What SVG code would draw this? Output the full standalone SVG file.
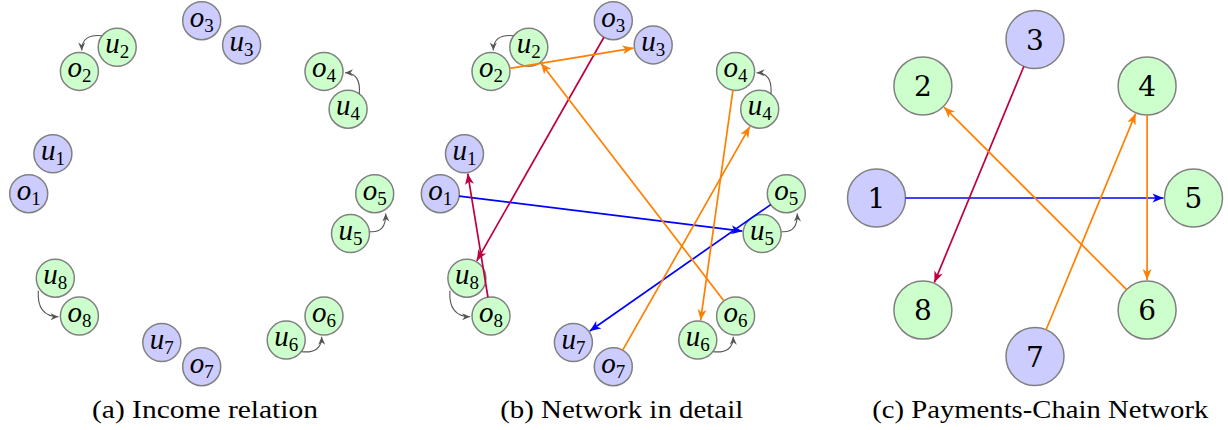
<svg xmlns="http://www.w3.org/2000/svg" width="1228" height="430" viewBox="0 0 1228 430">
<style>
.lav{fill:#ccccff;stroke:#808080;stroke-width:1.5}
.grn{fill:#ccffcc;stroke:#808080;stroke-width:1.5}
.m{font-family:"Liberation Serif",serif;font-style:italic;font-size:29px;fill:#000;text-anchor:middle}
.sub{font-style:normal;font-size:19px}
.num{font-family:"DejaVu Serif",serif;font-size:28px;fill:#000;text-anchor:middle}
.cap{font-family:"Liberation Serif",serif;font-size:26px;fill:#000;text-anchor:middle}
.e{fill:none;stroke-width:1.7}
.blue{stroke:#0000ff;marker-end:url(#ab)}
.red{stroke:#bf0040;marker-end:url(#ar)}
.ora{stroke:#ff8000;marker-end:url(#ao)}
.g{fill:none;stroke:#555;stroke-width:1.1;marker-end:url(#ag)}
</style>
<defs>
<marker id="ab" markerUnits="userSpaceOnUse" viewBox="-12 -6 14 12" refX="0" refY="0" markerWidth="14" markerHeight="12" orient="auto" overflow="visible"><path d="M0,0 L-11,-4.5 L-8,0 L-11,4.5 Z" fill="#0000ff"/></marker>
<marker id="ar" markerUnits="userSpaceOnUse" viewBox="-12 -6 14 12" refX="0" refY="0" markerWidth="14" markerHeight="12" orient="auto" overflow="visible"><path d="M0,0 L-11,-4.5 L-8,0 L-11,4.5 Z" fill="#bf0040"/></marker>
<marker id="ao" markerUnits="userSpaceOnUse" viewBox="-12 -6 14 12" refX="0" refY="0" markerWidth="14" markerHeight="12" orient="auto" overflow="visible"><path d="M0,0 L-11,-4.5 L-8,0 L-11,4.5 Z" fill="#ff8000"/></marker>
<marker id="ag" markerUnits="userSpaceOnUse" viewBox="-9 -5 10 10" refX="0" refY="0" markerWidth="10" markerHeight="10" orient="auto" overflow="visible"><path d="M0,0 L-8,-3.5 L-5.5,0 L-8,3.5 Z" fill="#555"/></marker>
</defs>

<!-- Panel (a) -->
<g id="panel-a" transform="translate(201.7,193.7)">
  <g id="a-o1" transform="translate(-173,0)"><circle r="19" class="lav"/><text class="m" y="6">o<tspan class="sub" dy="5">1</tspan></text></g>
  <g id="a-u1" transform="translate(-148.8,-39.9)"><circle r="19" class="lav"/><text class="m" y="6">u<tspan class="sub" dy="5">1</tspan></text></g>
  <g id="a-o2" transform="translate(-122.3,-122.3)"><circle r="19" class="grn"/><text class="m" y="6">o<tspan class="sub" dy="5">2</tspan></text></g>
  <g id="a-u2" transform="translate(-84.5,-146.4)"><circle r="19" class="grn"/><text class="m" y="6">u<tspan class="sub" dy="5">2</tspan></text></g>
  <g id="a-o3" transform="translate(0,-173)"><circle r="19" class="lav"/><text class="m" y="6">o<tspan class="sub" dy="5">3</tspan></text></g>
  <g id="a-u3" transform="translate(39.9,-148.8)"><circle r="19" class="lav"/><text class="m" y="6">u<tspan class="sub" dy="5">3</tspan></text></g>
  <g id="a-o4" transform="translate(122.3,-122.3)"><circle r="19" class="grn"/><text class="m" y="6">o<tspan class="sub" dy="5">4</tspan></text></g>
  <g id="a-u4" transform="translate(146.4,-84.5)"><circle r="19" class="grn"/><text class="m" y="6">u<tspan class="sub" dy="5">4</tspan></text></g>
  <g id="a-o5" transform="translate(173,0)"><circle r="19" class="grn"/><text class="m" y="6">o<tspan class="sub" dy="5">5</tspan></text></g>
  <g id="a-u5" transform="translate(148.8,39.9)"><circle r="19" class="grn"/><text class="m" y="6">u<tspan class="sub" dy="5">5</tspan></text></g>
  <g id="a-o6" transform="translate(122.3,122.3)"><circle r="19" class="grn"/><text class="m" y="6">o<tspan class="sub" dy="5">6</tspan></text></g>
  <g id="a-u6" transform="translate(84.5,146.4)"><circle r="19" class="grn"/><text class="m" y="6">u<tspan class="sub" dy="5">6</tspan></text></g>
  <g id="a-o7" transform="translate(0,173)"><circle r="19" class="lav"/><text class="m" y="6">o<tspan class="sub" dy="5">7</tspan></text></g>
  <g id="a-u7" transform="translate(-39.9,148.8)"><circle r="19" class="lav"/><text class="m" y="6">u<tspan class="sub" dy="5">7</tspan></text></g>
  <g id="a-o8" transform="translate(-122.3,122.3)"><circle r="19" class="grn"/><text class="m" y="6">o<tspan class="sub" dy="5">8</tspan></text></g>
  <g id="a-u8" transform="translate(-146.4,84.5)"><circle r="19" class="grn"/><text class="m" y="6">u<tspan class="sub" dy="5">8</tspan></text></g>
  <g id="a-connectors">
    <path class="g" d="M-100,-158 Q-120,-160 -120,-143.2"/>
    <path class="g" d="M157.6,-99.4 Q159.5,-121 143.3,-121"/>
    <path class="g" d="M168.3,38 Q184.5,39.5 184,19.8"/>
    <path class="g" d="M100,158 Q120,160 120,143"/>
    <path class="g" d="M-163.4,97 Q-165,123 -143.2,123"/>
  </g>
</g>

<!-- Panel (b) -->
<g id="panel-b" transform="translate(613.3,193.7)">
  <g id="b-o1" transform="translate(-173,0)"><circle r="19" class="lav"/><text class="m" y="6">o<tspan class="sub" dy="5">1</tspan></text></g>
  <g id="b-u1" transform="translate(-148.8,-39.9)"><circle r="19" class="lav"/><text class="m" y="6">u<tspan class="sub" dy="5">1</tspan></text></g>
  <g id="b-o2" transform="translate(-122.3,-122.3)"><circle r="19" class="grn"/><text class="m" y="6">o<tspan class="sub" dy="5">2</tspan></text></g>
  <g id="b-u2" transform="translate(-84.5,-146.4)"><circle r="19" class="grn"/><text class="m" y="6">u<tspan class="sub" dy="5">2</tspan></text></g>
  <g id="b-o3" transform="translate(0,-173)"><circle r="19" class="lav"/><text class="m" y="6">o<tspan class="sub" dy="5">3</tspan></text></g>
  <g id="b-u3" transform="translate(39.9,-148.8)"><circle r="19" class="lav"/><text class="m" y="6">u<tspan class="sub" dy="5">3</tspan></text></g>
  <g id="b-o4" transform="translate(122.3,-122.3)"><circle r="19" class="grn"/><text class="m" y="6">o<tspan class="sub" dy="5">4</tspan></text></g>
  <g id="b-u4" transform="translate(146.4,-84.5)"><circle r="19" class="grn"/><text class="m" y="6">u<tspan class="sub" dy="5">4</tspan></text></g>
  <g id="b-o5" transform="translate(173,0)"><circle r="19" class="grn"/><text class="m" y="6">o<tspan class="sub" dy="5">5</tspan></text></g>
  <g id="b-u5" transform="translate(148.8,39.9)"><circle r="19" class="grn"/><text class="m" y="6">u<tspan class="sub" dy="5">5</tspan></text></g>
  <g id="b-o6" transform="translate(122.3,122.3)"><circle r="19" class="grn"/><text class="m" y="6">o<tspan class="sub" dy="5">6</tspan></text></g>
  <g id="b-u6" transform="translate(84.5,146.4)"><circle r="19" class="grn"/><text class="m" y="6">u<tspan class="sub" dy="5">6</tspan></text></g>
  <g id="b-o7" transform="translate(0,173)"><circle r="19" class="lav"/><text class="m" y="6">o<tspan class="sub" dy="5">7</tspan></text></g>
  <g id="b-u7" transform="translate(-39.9,148.8)"><circle r="19" class="lav"/><text class="m" y="6">u<tspan class="sub" dy="5">7</tspan></text></g>
  <g id="b-o8" transform="translate(-122.3,122.3)"><circle r="19" class="grn"/><text class="m" y="6">o<tspan class="sub" dy="5">8</tspan></text></g>
  <g id="b-u8" transform="translate(-146.4,84.5)"><circle r="19" class="grn"/><text class="m" y="6">u<tspan class="sub" dy="5">8</tspan></text></g>
  <g id="b-connectors">
    <path class="g" d="M-100,-158 Q-120,-160 -120,-143.2"/>
    <path class="g" d="M157.6,-99.4 Q159.5,-121 143.3,-121"/>
    <path class="g" d="M168.3,38 Q184.5,39.5 184,19.8"/>
    <path class="g" d="M100,158 Q120,160 120,143"/>
    <path class="g" d="M-163.4,97 Q-165,123 -143.2,123"/>
    <line class="e blue" x1="-154.15" y1="2.34" x2="128.95" y2="37.44"/>
    <line class="e blue" x1="157.42" y1="10.89" x2="-23.5" y2="137.34"/>
    <line class="e red" x1="-9.39" y1="-156.48" x2="-136.51" y2="67.11"/>
    <line class="e red" x1="-125.36" y1="103.55" x2="-145.58" y2="-20.16"/>
    <line class="e ora" x1="-103.55" y1="-125.36" x2="20.16" y2="-145.58"/>
    <line class="e ora" x1="110.71" y1="107.24" x2="-72.3" y2="-130.55"/>
    <line class="e ora" x1="119.65" y1="-103.49" x2="87.29" y2="126.6"/>
    <line class="e ora" x1="9.39" y1="156.48" x2="136.51" y2="-67.11"/>
  </g>
</g>

<!-- Panel (c) -->
<g id="panel-c" transform="translate(1035,198)">
  <g id="c-1" transform="translate(-158.5,0)"><circle r="29" class="lav"/><text class="num" y="10">1</text></g>
  <g id="c-2" transform="translate(-112.1,-112.1)"><circle r="29" class="grn"/><text class="num" y="10">2</text></g>
  <g id="c-3" transform="translate(0,-158.5)"><circle r="29" class="lav"/><text class="num" y="10">3</text></g>
  <g id="c-4" transform="translate(112.1,-112.1)"><circle r="29" class="grn"/><text class="num" y="10">4</text></g>
  <g id="c-5" transform="translate(158.5,0)"><circle r="29" class="grn"/><text class="num" y="10">5</text></g>
  <g id="c-6" transform="translate(112.1,112.1)"><circle r="29" class="grn"/><text class="num" y="10">6</text></g>
  <g id="c-7" transform="translate(0,158.5)"><circle r="29" class="lav"/><text class="num" y="10">7</text></g>
  <g id="c-8" transform="translate(-112.1,112.1)"><circle r="29" class="grn"/><text class="num" y="10">8</text></g>
  <g id="c-connectors">
    <line class="e blue" x1="-129.5" y1="0" x2="128.5" y2="0"/>
    <line class="e red" x1="-11.1" y1="-131.71" x2="-100.62" y2="84.38"/>
    <line class="e ora" x1="91.6" y1="91.6" x2="-90.9" y2="-90.9"/>
    <line class="e ora" x1="11.1" y1="131.71" x2="100.62" y2="-84.38"/>
    <line class="e ora" x1="112.1" y1="-83.1" x2="112.1" y2="82.1"/>
  </g>
</g>

<!-- Captions -->
<text class="cap" x="205" y="418" textLength="226" lengthAdjust="spacingAndGlyphs">(a) Income relation</text>
<text class="cap" x="621.7" y="418" textLength="243" lengthAdjust="spacingAndGlyphs">(b) Network in detail</text>
<text class="cap" x="1040.3" y="418" textLength="336" lengthAdjust="spacingAndGlyphs">(c) Payments-Chain Network</text>
</svg>
